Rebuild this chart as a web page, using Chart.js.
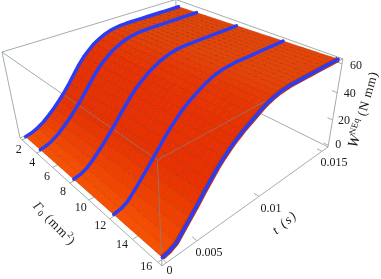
<!DOCTYPE html>
<html>
<head>
<meta charset="utf-8">
<style>
  html, body { margin: 0; padding: 0; background: #fff; }
  canvas { display: block; }
</style>
<script src="https://cdn.jsdelivr.net/npm/chart.js@4/dist/chart.umd.min.js"></script>
</head>
<body>
<canvas id="surface" width="381" height="279"></canvas>
<script>
"use strict";

// values
var gammaTicks = [2, 4, 6, 8, 10, 12, 14, 16];
var timeTickLabels = ["0", "0.005", "0.01", "0.015"];
var workTicks = [0, 20, 40, 60];
var blueGammas = [2, 4, 8, 12, 16];
var gammaValues = [2, 2.5, 3, 3.5, 4, 4.5, 5, 5.5, 6, 6.5, 7, 7.5, 8, 8.5, 9, 9.5, 10, 10.5, 11, 11.5, 12, 12.5, 13, 13.5, 14, 14.5, 15, 15.5, 16];
var timeValues = [0, 0.0005, 0.001, 0.0015, 0.002, 0.0025, 0.003, 0.0035, 0.004, 0.0045, 0.005, 0.0055, 0.006, 0.0065, 0.007, 0.0075, 0.008, 0.0085, 0.009, 0.0095, 0.01, 0.0105, 0.011, 0.0115, 0.012, 0.0125, 0.013, 0.0135, 0.014, 0.0145, 0.015];

// W at each t, one row per gamma
var workRows = [
  [0,1,2.9,5.5,9,12.8,17.2,21.9,27.2,32.9,38.6,43.4,47.2,50.6,52.9,54.9,56.3,57.2,57.7,57.9,58,58,58,58,58,58,58,58,58,58,58],
  [0,1,2.9,5.6,9.2,13,17.5,22.2,27.5,33.1,38.8,43.5,47.3,50.6,53,55,56.4,57.3,57.8,58,58.1,58.1,58.1,58.1,58.1,58.1,58.1,58.1,58.1,58.1,58.1],
  [0,1,2.9,5.7,9.3,13.3,17.7,22.5,27.8,33.4,38.9,43.6,47.4,50.7,53,55,56.5,57.4,57.9,58.2,58.3,58.3,58.3,58.3,58.3,58.3,58.3,58.3,58.3,58.3,58.3],
  [0,1,2.9,5.8,9.5,13.5,18,22.8,28.1,33.6,39.1,43.8,47.5,50.8,53.1,55.1,56.6,57.5,58.1,58.3,58.4,58.4,58.4,58.4,58.4,58.4,58.4,58.4,58.4,58.4,58.4],
  [0,1,3,5.9,9.7,13.7,18.3,23.1,28.4,33.9,39.3,43.9,47.5,50.8,53.1,55.2,56.6,57.6,58.2,58.4,58.6,58.6,58.6,58.6,58.6,58.6,58.6,58.6,58.6,58.6,58.6],
  [0,1,3,6.1,9.9,13.9,18.6,23.4,28.6,34.1,39.5,44,47.6,50.9,53.2,55.2,56.7,57.7,58.3,58.6,58.7,58.7,58.7,58.7,58.7,58.7,58.7,58.7,58.7,58.7,58.7],
  [0,1,3,6.2,10,14.1,18.8,23.6,28.9,34.3,39.6,44.1,47.7,50.9,53.2,55.3,56.8,57.8,58.4,58.7,58.9,58.9,58.9,58.9,58.9,58.9,58.9,58.9,58.9,58.9,58.9],
  [0,1,3,6.3,10.2,14.4,19.1,23.9,29.2,34.6,39.8,44.2,47.8,51,53.3,55.4,56.9,57.9,58.6,58.8,59,59,59,59,59,59,59,59,59,59,59],
  [0,1,3,6.4,10.4,14.6,19.4,24.2,29.5,34.8,40,44.3,47.9,51,53.3,55.4,57,58,58.7,59,59.1,59.1,59.1,59.1,59.1,59.1,59.1,59.1,59.1,59.1,59.1],
  [0,1,3,6.5,10.5,14.8,19.6,24.5,29.8,35,40.1,44.5,48,51.1,53.4,55.5,57.1,58.1,58.8,59.1,59.3,59.3,59.3,59.3,59.3,59.3,59.3,59.3,59.3,59.3,59.3],
  [0,1,3,6.6,10.7,15,19.9,24.8,30.1,35.3,40.3,44.6,48.1,51.1,53.4,55.6,57.2,58.2,58.9,59.2,59.4,59.4,59.4,59.4,59.4,59.4,59.4,59.4,59.4,59.4,59.4],
  [0,1,3,6.7,10.9,15.3,20.2,25.1,30.4,35.5,40.5,44.7,48.1,51.2,53.5,55.6,57.2,58.3,59,59.4,59.6,59.6,59.6,59.6,59.6,59.6,59.6,59.6,59.6,59.6,59.6],
  [0,1,3.1,6.8,11.1,15.5,20.5,25.4,30.7,35.8,40.7,44.8,48.2,51.2,53.5,55.7,57.3,58.4,59.2,59.5,59.7,59.7,59.7,59.7,59.7,59.7,59.7,59.7,59.7,59.7,59.7],
  [0,1,3.1,6.9,11.2,15.7,20.7,25.7,31,36,40.8,44.9,48.3,51.2,53.6,55.8,57.4,58.5,59.3,59.6,59.9,59.9,59.9,59.9,59.9,59.9,59.9,59.9,59.9,59.9,59.9],
  [0,1,3.1,7.1,11.4,16,21,26,31.3,36.3,41,45.1,48.4,51.3,53.7,55.9,57.5,58.7,59.4,59.8,60,60,60,60,60,60,60,60,60,60,60],
  [0,1,3.1,7.2,11.6,16.2,21.3,26.2,31.5,36.5,41.2,45.2,48.5,51.4,53.7,55.9,57.6,58.8,59.5,59.9,60.1,60.1,60.1,60.1,60.1,60.1,60.1,60.1,60.1,60.1,60.1],
  [0,1,3.1,7.3,11.7,16.4,21.5,26.5,31.8,36.7,41.3,45.3,48.6,51.4,53.8,56,57.7,58.9,59.6,60,60.3,60.3,60.3,60.3,60.3,60.3,60.3,60.3,60.3,60.3,60.3],
  [0,1,3.1,7.4,11.9,16.6,21.8,26.8,32.1,37,41.5,45.4,48.7,51.4,53.8,56.1,57.8,59,59.8,60.1,60.4,60.4,60.4,60.4,60.4,60.4,60.4,60.4,60.4,60.4,60.4],
  [0,1,3.2,7.5,12.1,16.9,22.1,27.1,32.4,37.2,41.7,45.5,48.7,51.5,53.9,56.1,57.8,59.1,59.9,60.3,60.6,60.6,60.6,60.6,60.6,60.6,60.6,60.6,60.6,60.6,60.6],
  [0,1,3.2,7.6,12.3,17.1,22.4,27.4,32.7,37.5,41.9,45.6,48.8,51.5,53.9,56.2,57.9,59.2,60,60.4,60.7,60.7,60.7,60.7,60.7,60.7,60.7,60.7,60.7,60.7,60.7],
  [0,1,3.2,7.7,12.4,17.3,22.6,27.7,33,37.7,42,45.8,48.9,51.6,54,56.3,58,59.3,60.1,60.5,60.9,60.9,60.9,60.9,60.9,60.9,60.9,60.9,60.9,60.9,60.9],
  [0,1,3.2,7.8,12.6,17.5,22.9,28,33.3,37.9,42.2,45.9,49,51.7,54,56.3,58.1,59.4,60.3,60.7,61,61,61,61,61,61,61,61,61,61,61],
  [0,1,3.2,7.9,12.8,17.8,23.2,28.3,33.6,38.2,42.4,46,49.1,51.7,54.1,56.4,58.2,59.5,60.4,60.8,61.1,61.1,61.1,61.1,61.1,61.1,61.1,61.1,61.1,61.1,61.1],
  [0,1,3.2,8,12.9,18,23.4,28.6,33.9,38.4,42.5,46.1,49.2,51.7,54.1,56.5,58.3,59.6,60.5,60.9,61.3,61.3,61.3,61.3,61.3,61.3,61.3,61.3,61.3,61.3,61.3],
  [0,1,3.2,8.2,13.1,18.2,23.7,28.8,34.1,38.6,42.7,46.2,49.3,51.8,54.2,56.5,58.4,59.7,60.6,61.1,61.4,61.4,61.4,61.4,61.4,61.4,61.4,61.4,61.4,61.4,61.4],
  [0,1,3.3,8.3,13.3,18.4,24,29.1,34.4,38.9,42.9,46.3,49.3,51.9,54.2,56.6,58.4,59.8,60.7,61.2,61.6,61.6,61.6,61.6,61.6,61.6,61.6,61.6,61.6,61.6,61.6],
  [0,1,3.3,8.4,13.5,18.7,24.3,29.4,34.7,39.1,43.1,46.5,49.4,51.9,54.3,56.7,58.5,59.9,60.9,61.3,61.7,61.7,61.7,61.7,61.7,61.7,61.7,61.7,61.7,61.7,61.7],
  [0,1,3.3,8.5,13.6,18.9,24.5,29.7,35,39.4,43.2,46.6,49.5,52,54.3,56.7,58.6,60,61,61.5,61.9,61.9,61.9,61.9,61.9,61.9,61.9,61.9,61.9,61.9,61.9],
  [0,1,3.3,8.6,13.8,19.1,24.8,30,35.3,39.6,43.4,46.7,49.6,52,54.4,56.8,58.7,60.1,61.1,61.6,62,62,62,62,62,62,62,62,62,62,62]
];

// camera: box coords (0..1 each way) to page pixels
var camera = {
  x: [20, 95.7, 202, -18.2],
  y: [138, 52, -47.7, -90.9],
  d: [1, -0.2855, 0.254, -0.095]
};
var gammaMin = 2, gammaMax = 16, timeMax = 0.015, workMax = 62, pad = 0.02;
// the t ticks in the picture are not evenly placed, so they sit where they were read
var timeTickBoxV = [0.02, 0.165, 0.509, 0.951];

function boxPoint(u, v, w) {
  var den = camera.d[0] + camera.d[1] * u + camera.d[2] * v + camera.d[3] * w;
  return {
    x: (camera.x[0] + camera.x[1] * u + camera.x[2] * v + camera.x[3] * w) / den,
    y: (camera.y[0] + camera.y[1] * u + camera.y[2] * v + camera.y[3] * w) / den
  };
}
function toU(g) { return pad + (1 - 2 * pad) * (g - gammaMin) / (gammaMax - gammaMin); }
function toV(t) { return pad + (1 - pad) * t / timeMax; }
function toW(z) { return pad + (1 - 2 * pad) * z / workMax; }
function surfacePoint(g, t, z) { return boxPoint(toU(g), toV(t), toW(z)); }

var datasets = [];
var seq = 0;
function addLine(points, color, width, cap) {
  seq++;
  datasets.push({
    data: points, showLine: true, fill: false, pointRadius: 0,
    borderColor: color, borderWidth: width, borderCapStyle: cap || "butt",
    borderJoinStyle: "round", tension: 0, order: 5000 - seq
  });
}
function addCell(points, color) {
  seq++;
  datasets.push({
    data: points, showLine: true, fill: "shape", pointRadius: 0,
    backgroundColor: color, borderColor: color, borderWidth: 0.5, tension: 0, order: 5000 - seq
  });
}

var boxBack = "#a3aeac";
var boxFront = "rgba(125,135,130,0.7)";

// back edges of the box, behind the surface
addLine([boxPoint(0, 0, 0), boxPoint(0, 1, 0)], boxBack, 1);
addLine([boxPoint(0, 1, 0), boxPoint(1, 1, 0)], boxBack, 1);
addLine([boxPoint(0, 1, 0), boxPoint(0, 1, 1)], boxBack, 1);
addLine([boxPoint(0, 0, 0), boxPoint(0, 0, 1)], boxBack, 1);
addLine([boxPoint(0, 0, 1), boxPoint(0, 1, 1)], boxBack, 1);
addLine([boxPoint(0, 1, 1), boxPoint(1, 1, 1)], boxBack, 1);
addLine([boxPoint(1, 1, 0), boxPoint(1, 1, 1)], boxBack, 1);
addLine([boxPoint(0, 0, 0), boxPoint(1, 0, 0)], boxBack, 1);
addLine([boxPoint(1, 0, 0), boxPoint(1, 1, 0)], boxBack, 1);

// ticks
gammaTicks.forEach(function (g) {
  addLine([boxPoint(toU(g), 0, 0), boxPoint(toU(g), 0.025, 0)], boxBack, 1);
});
timeTickBoxV.forEach(function (v) {
  addLine([boxPoint(1, v, 0), boxPoint(0.975, v, 0)], boxBack, 1);
});
workTicks.forEach(function (z) {
  addLine([boxPoint(1, 1, toW(z)), boxPoint(0.975, 1, toW(z))], boxBack, 1);
});

// surface cells, far ones first
function cellColor(slope, t) {
  var flat = [232, 68, 6], steep = [232, 48, 0], low = [248, 80, 0];
  var s = Math.min(1, slope / 3);
  var l = Math.max(0, 1 - t / 0.003);
  return "rgb(" + [0, 1, 2].map(function (i) {
    var c = flat[i] + (steep[i] - flat[i]) * s;
    return Math.round(c + (low[i] - c) * l);
  }).join(",") + ")";
}
for (var j = timeValues.length - 2; j >= 0; j--) {
  for (var i = 0; i < gammaValues.length - 1; i++) {
    var slope = workRows[i][j + 1] - workRows[i][j];
    addCell([
      surfacePoint(gammaValues[i], timeValues[j], workRows[i][j]),
      surfacePoint(gammaValues[i + 1], timeValues[j], workRows[i + 1][j]),
      surfacePoint(gammaValues[i + 1], timeValues[j + 1], workRows[i + 1][j + 1]),
      surfacePoint(gammaValues[i], timeValues[j + 1], workRows[i][j + 1])
    ], cellColor(slope, timeValues[j]));
  }
}

// mesh
var meshColor = "rgba(95,25,0,0.36)";
gammaValues.forEach(function (g, i) {
  addLine(timeValues.map(function (t, j) { return surfacePoint(g, t, workRows[i][j]); }), meshColor, 0.55);
});
timeValues.forEach(function (t, j) {
  addLine(gammaValues.map(function (g, i) { return surfacePoint(g, t, workRows[i][j]); }), meshColor, 0.55);
});

// front edges of the box, over the surface
addLine([boxPoint(0, 0, 1), boxPoint(1, 0, 1)], boxFront, 1);
addLine([boxPoint(1, 0, 1), boxPoint(1, 1, 1)], boxFront, 1);
addLine([boxPoint(1, 0, 0), boxPoint(1, 0, 1)], boxFront, 1);

// blue curves
blueGammas.forEach(function (g) {
  var row = workRows[gammaValues.indexOf(g)];
  var pts = timeValues.map(function (t, j) { return surfacePoint(g, t, row[j]); });
  if (g == 16) addLine(pts, "#c8330e", 5.5);
  addLine(pts, "#2b3df2", 3.5, "round");
});

var textPlugin = {
  id: "boxText",
  afterDraw: function (chart) {
    var ctx = chart.ctx;
    ctx.save();
    ctx.fillStyle = "#1a1a1a";
    ctx.textAlign = "center";
    ctx.textBaseline = "middle";
    ctx.font = "12px 'Liberation Serif'";
    gammaTicks.forEach(function (g) {
      var u = toU(g), p = boxPoint(u, 0, 0);
      ctx.fillText(String(g), p.x - 3 - 9 * u, p.y + 10 - 6 * u * u);
    });
    timeTickLabels.forEach(function (label, i) {
      var p = boxPoint(1, timeTickBoxV[i], 0);
      ctx.fillText(label, p.x + (i == 0 ? 3 : 12), p.y + (i == 0 ? 8 : 12));
    });
    workTicks.forEach(function (z) {
      var p = boxPoint(1, 1, toW(z));
      ctx.fillText(String(z), p.x + 10 + z / 15, p.y + z / 30);
    });

    ctx.save();
    ctx.translate(55, 225);
    ctx.rotate(46 * Math.PI / 180);
    ctx.letterSpacing = "0.8px";
    ctx.textAlign = "left";
    var gx = -29;
    ctx.font = "italic 13px 'Liberation Serif'";
    ctx.fillText("Γ", gx, 0);
    gx += ctx.measureText("Γ").width;
    ctx.font = "9px 'Liberation Serif'";
    ctx.fillText("0", gx, 3);
    gx += ctx.measureText("0").width + 4;
    ctx.font = "13px 'Liberation Serif'";
    ctx.fillText("(mm", gx, 0);
    gx += ctx.measureText("(mm").width;
    ctx.font = "9px 'Liberation Serif'";
    ctx.fillText("2", gx, -4);
    gx += ctx.measureText("2").width;
    ctx.font = "13px 'Liberation Serif'";
    ctx.fillText(")", gx, 0);
    ctx.restore();

    ctx.save();
    ctx.translate(285, 223);
    ctx.rotate(-40 * Math.PI / 180);
    ctx.letterSpacing = "1.5px";
    ctx.font = "italic 13px 'Liberation Serif'";
    ctx.fillText("t (s)", 0, 0);
    ctx.restore();

    ctx.save();
    ctx.translate(364, 109);
    ctx.rotate(-74 * Math.PI / 180);
    ctx.textAlign = "left";
    var x = -40;
    ctx.font = "italic 15px 'Liberation Serif'";
    ctx.fillText("W", x, 0);
    x += ctx.measureText("W").width;
    ctx.font = "9px 'Liberation Serif'";
    ctx.fillText("NEq", x, -4);
    x += ctx.measureText("NEq").width + 4;
    ctx.letterSpacing = "0.7px";
    ctx.font = "13px 'Liberation Serif'";
    ctx.fillText("(N mm)", x, 0);
    ctx.restore();
    ctx.restore();
  }
};

new Chart(document.getElementById("surface"), {
  type: "scatter",
  data: { datasets: datasets },
  plugins: [textPlugin],
  options: {
    responsive: false,
    animation: false,
    layout: { padding: 0 },
    events: [],
    plugins: { legend: { display: false }, tooltip: { enabled: false } },
    scales: {
      x: { type: "linear", min: 0, max: 381, display: false },
      y: { type: "linear", min: 0, max: 279, reverse: true, display: false }
    }
  }
});
</script>
</body>
</html>
